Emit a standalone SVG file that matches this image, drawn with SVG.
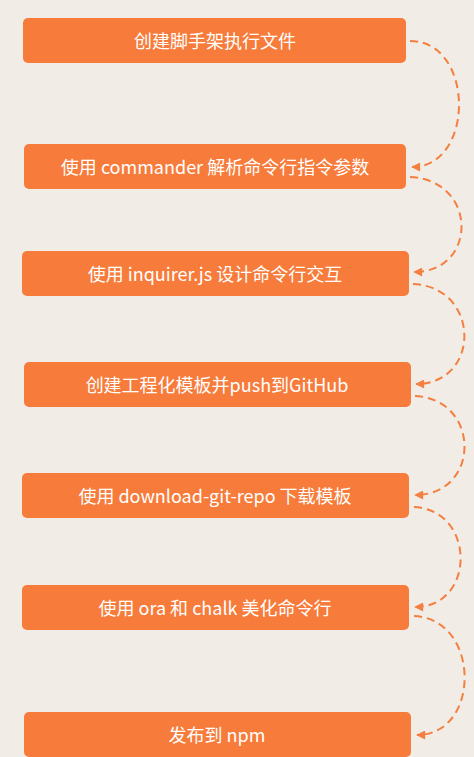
<svg xmlns="http://www.w3.org/2000/svg" width="474" height="757" viewBox="0 0 474 757">
<style>
.box{fill:#f77b3a;}
.lbl{fill:#ffffff;font-family:"Noto Sans CJK SC","Noto Sans",sans-serif;font-size:18px;text-anchor:middle;}
.conn{fill:none;stroke:#f47f40;stroke-width:2;stroke-dasharray:8 5;}
</style>
<defs>
<marker id="arr" viewBox="0 0 10 10" refX="9" refY="5" markerWidth="10" markerHeight="9" markerUnits="userSpaceOnUse" orient="auto">
<path d="M0,0 L10,5 L0,10 z" fill="#f47f40"/>
</marker>
</defs>
<rect width="474" height="757" fill="#f1ece6"/>
<g id="n1"><rect class="box" x="23" y="18" width="383" height="45" rx="5"/><text class="lbl" x="215" y="47.5">创建脚手架执行文件</text></g>
<g id="n2"><rect class="box" x="24" y="144" width="382" height="45" rx="5"/><text class="lbl" x="215" y="173.5">使用 commander 解析命令行指令参数</text></g>
<g id="n3"><rect class="box" x="22" y="251" width="387" height="45" rx="5"/><text class="lbl" x="215" y="280.5">使用 inquirer.js 设计命令行交互</text></g>
<g id="n4"><rect class="box" x="24" y="362" width="387" height="45" rx="5"/><text class="lbl" x="217" y="391.5">创建工程化模板并push到GitHub</text></g>
<g id="n5"><rect class="box" x="22" y="473" width="387" height="45" rx="5"/><text class="lbl" x="215" y="502.5">使用 download-git-repo 下载模板</text></g>
<g id="n6"><rect class="box" x="22" y="585" width="387" height="45" rx="5"/><text class="lbl" x="215" y="614.5">使用 ora 和 chalk 美化命令行</text></g>
<g id="n7"><rect class="box" x="24" y="712" width="387" height="45" rx="5"/><text class="lbl" x="217" y="741.5">发布到 npm</text></g>
<g id="connectors">
<path class="conn" d="M410,41 C475,41 475,167 412,167" marker-end="url(#arr)"/>
<path class="conn" d="M410,177 C478,180 478,272 414,272" marker-end="url(#arr)"/>
<path class="conn" d="M413,284 C481,287 481,384 416,384" marker-end="url(#arr)"/>
<path class="conn" d="M415,396 C481,399 481,495 415,495" marker-end="url(#arr)"/>
<path class="conn" d="M414,507 C476,510 476,607 415,607" marker-end="url(#arr)"/>
<path class="conn" d="M414,616 C481,619 481,735 417,735" marker-end="url(#arr)"/>
</g>
</svg>
